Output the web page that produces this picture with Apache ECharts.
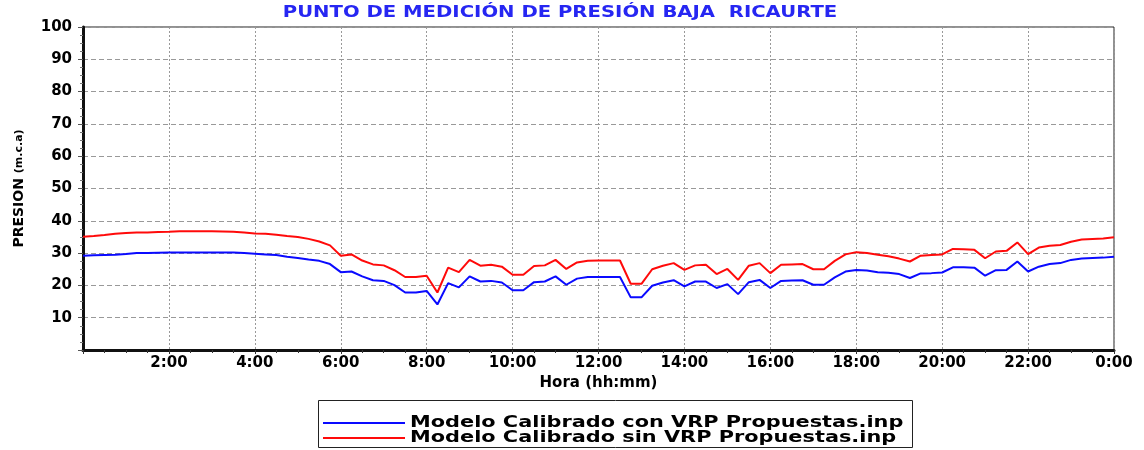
<!DOCTYPE html>
<html>
<head>
<meta charset="utf-8">
<script src="https://cdn.jsdelivr.net/npm/echarts@6/dist/echarts.min.js"></script>
<style>
  html, body { margin: 0; padding: 0; background: #fff; }
  #chart { width: 1144px; height: 450px; }
</style>
</head>
<body>
<div id="chart"></div>
<script>
// time in hours, one point each 15 min (0:00 .. 24:00)
var hours = []
for (var i = 0; i <= 96; i++) hours.push(i / 4)

var conVRP = [
  29.2, 29.3, 29.4, 29.5, 29.7, 30.0, 30.0, 30.1, 30.2, 30.2, 30.2, 30.2,
  30.2, 30.2, 30.2, 30.0, 29.8, 29.6, 29.4, 28.9, 28.5, 28.0, 27.6, 26.6,
  24.1, 24.3, 22.8, 21.6, 21.4, 20.1, 17.8, 17.8, 18.3, 14.1, 20.7, 19.4,
  22.8, 21.2, 21.4, 20.9, 18.5, 18.5, 21.0, 21.2, 22.8, 20.2, 22.1, 22.6,
  22.6, 22.6, 22.6, 16.3, 16.3, 19.9, 20.9, 21.6, 19.7, 21.2, 21.2, 19.2,
  20.4, 17.3, 21.0, 21.7, 19.2, 21.4, 21.5, 21.6, 20.2, 20.2, 22.5, 24.3,
  24.8, 24.6, 24.1, 23.9, 23.5, 22.3, 23.7, 23.8, 24.0, 25.6, 25.6, 25.5,
  23.0, 24.7, 24.8, 27.4, 24.3, 25.8, 26.6, 26.9, 27.9, 28.3, 28.5, 28.6,
  28.9
]
var sinVRP = [
  35.1, 35.3, 35.6, 36.0, 36.2, 36.4, 36.4, 36.5, 36.6, 36.8, 36.8, 36.8,
  36.8, 36.7, 36.6, 36.4, 36.1, 36.0, 35.7, 35.3, 35.0, 34.4, 33.6, 32.4,
  29.2, 29.6, 27.7, 26.5, 26.2, 24.7, 22.6, 22.6, 23.0, 17.8, 25.5, 24.1,
  27.9, 26.1, 26.4, 25.8, 23.3, 23.3, 26.0, 26.2, 27.9, 25.1, 27.1, 27.6,
  27.7, 27.7, 27.7, 20.5, 20.5, 25.0, 26.1, 26.9, 24.8, 26.2, 26.4, 23.5,
  25.1, 21.7, 26.1, 26.9, 23.8, 26.4, 26.5, 26.6, 25.0, 25.0, 27.6, 29.6,
  30.3, 30.0, 29.5, 29.0, 28.3, 27.4, 29.2, 29.4, 29.6, 31.3, 31.2, 31.0,
  28.4, 30.5, 30.7, 33.3, 29.7, 31.7, 32.3, 32.5, 33.5, 34.2, 34.4, 34.5,
  34.9
]
var seriesNames = ['Modelo Calibrado con VRP Propuestas.inp', 'Modelo Calibrado sin VRP Propuestas.inp']
var seriesColors = ['#0a0aff', '#ff0a0a']
var titleText = 'PUNTO DE MEDICIÓN DE PRESIÓN BAJA  RICAURTE'

var font = 'DejaVu Sans'

function pairs (vals) {
  return vals.map(function (v, i) { return [hours[i], v] })
}

// the original picture uses wide lettering, so texts are stretched a bit
function wideText (str, x, y, size, color, align, sx) {
  return {
    type: 'text', x: x, y: y, scaleX: sx, z: 10,
    style: {
      text: str, x: 0, y: 0,
      font: 'bold ' + size + 'px "' + font + '"',
      fill: color,
      textAlign: align, align: align,
      textVerticalAlign: 'middle', verticalAlign: 'middle'
    }
  }
}

// legend box drawn by hand (stretched text like the original)
var legendParts = [
  { type: 'rect', shape: { x: 318.5, y: 400.5, width: 594, height: 47 },
    style: { fill: '#fff', stroke: '#222', lineWidth: 1 }, z: 9 }
]
seriesNames.forEach(function (nm, k) {
  var ly = 423 + k * 15
  legendParts.push({ type: 'line', shape: { x1: 323, y1: ly, x2: 405, y2: ly },
    style: { stroke: seriesColors[k], lineWidth: 2 }, z: 10 })
  legendParts.push(wideText(nm, 410, ly, 15, '#000', 'left', 1.39))
})

var chart = echarts.init(document.getElementById('chart'))
chart.setOption({
  animation: false,
  backgroundColor: '#fff',
  graphic: [wideText(titleText, 560, 13, 15, '#2626f2', 'center', 1.31)].concat(legendParts),
  grid: {
    left: 83, right: 30, top: 27, bottom: 100,
    show: true, borderColor: '#222', borderWidth: 1
  },
  xAxis: {
    type: 'value',
    min: 0, max: 24, interval: 2,
    name: 'Hora (hh:mm)',
    nameLocation: 'middle',
    nameGap: 25,
    nameTextStyle: { color: '#000', fontFamily: font, fontWeight: 'bold', fontSize: 15 },
    axisLine: { lineStyle: { color: '#111', width: 3 } },
    axisTick: { show: true, length: 4, lineStyle: { color: '#333' } },
    minorTick: { show: true, splitNumber: 4, length: 3, lineStyle: { color: '#333' } },
    axisLabel: {
      color: '#000', fontFamily: font, fontWeight: 'bold', fontSize: 15, margin: 6,
      formatter: function (v) { return v === 0 ? '' : (v % 24) + ':00' }
    },
    splitLine: { show: true, lineStyle: { color: '#999', type: [2, 2], width: 1 } }
  },
  yAxis: {
    type: 'value',
    min: 0, max: 100, interval: 10,
    name: 'PRESION {s|(m.c.a)}',
    nameLocation: 'middle',
    nameRotate: 90,
    nameGap: 57,
    nameTextStyle: {
      color: '#000', fontFamily: font, fontWeight: 'bold', fontSize: 14,
      rich: { s: { color: '#000', fontFamily: font, fontWeight: 'bold', fontSize: 11 } }
    },
    axisLine: { show: true, lineStyle: { color: '#111', width: 3 } },
    axisTick: { show: true, length: 5, lineStyle: { color: '#555' } },
    minorTick: { show: true, splitNumber: 4, length: 3, lineStyle: { color: '#777' } },
    axisLabel: {
      color: '#000', fontFamily: font, fontWeight: 'bold', fontSize: 15, margin: 11,
      formatter: function (v) { return v === 0 ? '' : v }
    },
    splitLine: { show: true, lineStyle: { color: '#999', type: [5, 3], width: 1 } }
  },
  series: [
    {
      name: seriesNames[0],
      type: 'line',
      data: pairs(conVRP),
      showSymbol: false,
      lineStyle: { color: seriesColors[0], width: 2 },
      itemStyle: { color: seriesColors[0] }
    },
    {
      name: seriesNames[1],
      type: 'line',
      data: pairs(sinVRP),
      showSymbol: false,
      lineStyle: { color: seriesColors[1], width: 2 },
      itemStyle: { color: seriesColors[1] }
    }
  ]
})
</script>
</body>
</html>
